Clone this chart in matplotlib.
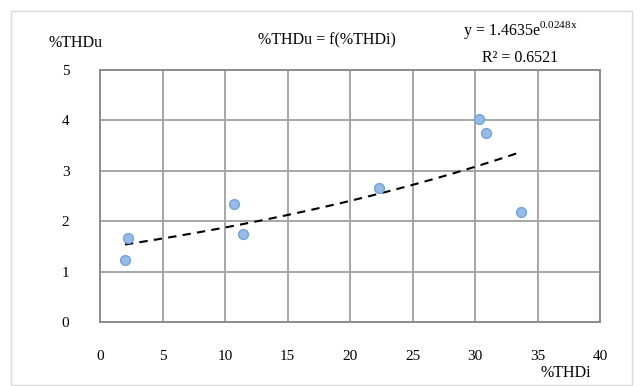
import numpy as np
import matplotlib
matplotlib.use("Agg")
import matplotlib.pyplot as plt
from matplotlib.patches import Rectangle

matplotlib.rcParams['font.family'] = ['Liberation Serif', 'DejaVu Serif']
matplotlib.rcParams['mathtext.fontset'] = 'custom'
matplotlib.rcParams['mathtext.rm'] = 'Liberation Serif'

# data
thdi = [2.0, 2.2, 10.7, 11.4, 22.3, 30.3, 30.9, 33.7]
thdu = [1.23, 1.67, 2.34, 1.75, 2.66, 4.03, 3.75, 2.18]

# exponential trendline from the chart label
coef_a = 1.4635
coef_b = 0.0248
r2 = 0.6521

xticks = [0, 5, 10, 15, 20, 25, 30, 35, 40]
yticks = [0, 1, 2, 3, 4, 5]

fig = plt.figure(figsize=(6.43, 3.86), dpi=100)
fig.patches.append(Rectangle((11 / 643, 0.002), 621 / 643, 1 - 11 / 386 - 0.002,
                             transform=fig.transFigure, fill=False,
                             edgecolor='#d9d9d9', linewidth=1.0))

ax = fig.add_axes([100 / 643, 64 / 386, 500 / 643, 252 / 386])
ax.set_xlim(0, 40)
ax.set_ylim(0, 5)
ax.set_xticks(xticks)
ax.set_yticks(yticks)
ax.grid(True, color='#a6a6a6', linewidth=1.4)
ax.set_axisbelow(True)
for s in ax.spines.values():
    s.set_color('#8c8c8c')
    s.set_linewidth(1.4)
ax.tick_params(length=0, labelsize=11)
ax.tick_params(axis='x', pad=20)
ax.tick_params(axis='y', pad=22)

xt = np.linspace(min(thdi), max(thdi), 100)
ax.plot(xt, coef_a * np.exp(coef_b * xt), color='black', linestyle=(0, (4, 3)),
        linewidth=1.5, zorder=2)
ax.scatter(thdi, thdu, s=50, color='#95bbe6', edgecolors='#74a3da',
           linewidths=1.0, zorder=3)

fs = 11.5
fig.text(76 / 643, 1 - 43 / 386, '%THDu', ha='center', va='center', fontsize=fs)
fig.text(327 / 643, 1 - 40 / 386, '%THDu = f(%THDi)', ha='center', va='center', fontsize=fs)
fig.text(520 / 643, 1 - 30 / 386, r'y = %.4fe$^{\mathrm{%.4fx}}$' % (coef_a, coef_b),
         ha='center', va='center', fontsize=fs)
fig.text(520 / 643, 1 - 58 / 386, 'R² = %.4f' % r2, ha='center', va='center', fontsize=fs)
fig.text(566 / 643, 1 - 373 / 386, '%THDi', ha='center', va='center', fontsize=fs)

fig.savefig('out.png', dpi=100)
